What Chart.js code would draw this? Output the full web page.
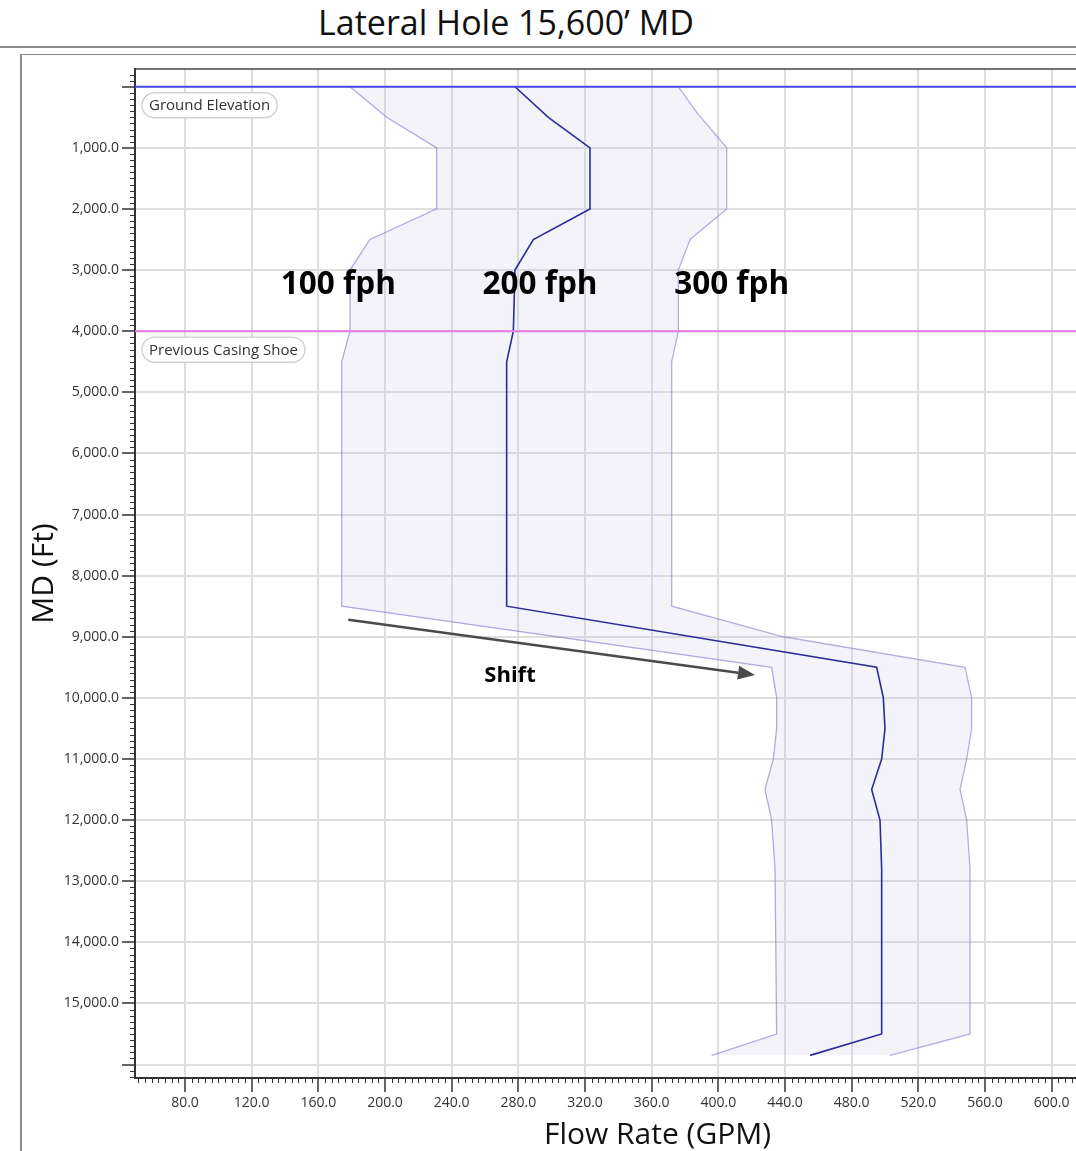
<!DOCTYPE html>
<html>
<head>
<meta charset="utf-8">
<title>Lateral Hole 15,600’ MD</title>
<script src="https://cdn.jsdelivr.net/npm/chart.js@4.4.1/dist/chart.umd.min.js"></script>
<style>
  html, body { margin: 0; padding: 0; background: #fff; overflow: hidden; }
  #page { position: relative; width: 1076px; height: 1151px; overflow: hidden; }
  #title { position: absolute; left: 0; top: 0; width: 1012px; text-align: center;
           font: 34px 'Open Sans', sans-serif; line-height: 44px; color: #111; }
  #rule { position: absolute; left: 0; top: 46px; width: 1076px; height: 2px; background: #8c8c8c; }
  #frame { position: absolute; left: 20px; top: 54px; width: 1200px; height: 1100px;
           border-left: 2px solid #8c8c8c; border-top: 1px solid #8c8c8c; }
  #chart { position: absolute; left: 0; top: 0; }
</style>
</head>
<body>
<div id="page">
  <div id="title">Lateral Hole 15,600’ MD</div>
  <div id="rule"></div>
  <div id="frame"></div>
  <canvas id="chart" width="1180" height="1151"></canvas>
</div>
<script>
const md100 = [0, 500, 1000, 2000, 2500, 3000, 4000, 4500, 8500, 9500, 10000, 10500, 11000, 11500, 12000, 12800, 15500, 15850];
const gpm100 = [179, 201, 231, 231, 191, 179, 179, 174, 174, 432, 435, 435, 433, 428, 432, 434, 435, 396];
const md200 = [0, 500, 1000, 2000, 2500, 3000, 4000, 4500, 8500, 9500, 10000, 10500, 11000, 11500, 12000, 12800, 15500, 15850];
const gpm200 = [278, 298, 323, 323, 289, 278, 277, 273, 273, 495, 499, 500, 498, 492, 497, 498, 498, 455];
const md300 = [0, 420, 1000, 2000, 2500, 3000, 4000, 4500, 8500, 9000, 9500, 10000, 10500, 11000, 11500, 12000, 12800, 15500, 15850];
const gpm300 = [376, 387, 405, 405, 383, 376, 376, 372, 372, 439, 548, 552, 552, 549, 545, 549, 551, 551, 503];

// reference depths
const groundMD = 0;
const casingMD = 4000;
const refNames = ['Ground Elevation', 'Previous Casing Shoe'];

// axes
const xMin = 50, xMax = 677;
const yMin = -290, yMax = 16220;
const xTicks = [80, 120, 160, 200, 240, 280, 320, 360, 400, 440, 480, 520, 560, 600, 640];
const xTickLabels = ['80.0', '120.0', '160.0', '200.0', '240.0', '280.0', '320.0', '360.0', '400.0', '440.0', '480.0', '520.0', '560.0', '600.0', '640.0'];
const yTicks = [0, 1000, 2000, 3000, 4000, 5000, 6000, 7000, 8000, 9000, 10000, 11000, 12000, 13000, 14000, 15000, 16000];
const yTickLabels = ['', '1,000.0', '2,000.0', '3,000.0', '4,000.0', '5,000.0', '6,000.0', '7,000.0', '8,000.0', '9,000.0',
  '10,000.0', '11,000.0', '12,000.0', '13,000.0', '14,000.0', '15,000.0', ''];

// annotations
const rateLabels = ['100 fph', '200 fph', '300 fph'];
const rateLabelGPM = [172, 293, 408];
const rateLabelMD = 3250;
const shiftFrom = [178, 8720];
const shiftTo = [422, 9625];
const shiftLabel = ['Shift', 275, 9640];

const pts = (xs, ys) => xs.map((x, i) => ({ x: x, y: ys[i] }));

function pill(ctx, text, x, y) {
  ctx.font = '15px "Open Sans"';
  const w = ctx.measureText(text).width + 14;
  const h = 25;
  ctx.beginPath();
  ctx.roundRect(x, y, w, h, h / 2);
  ctx.fillStyle = '#fff';
  ctx.fill();
  ctx.strokeStyle = '#d2d2d2';
  ctx.lineWidth = 1.5;
  ctx.stroke();
  ctx.fillStyle = '#333';
  ctx.textAlign = 'left';
  ctx.textBaseline = 'middle';
  ctx.fillText(text, x + 7, y + h / 2 + 1);
}

const decor = {
  id: 'decor',
  afterDraw(chart) {
    const { ctx, chartArea: a, scales: { x, y } } = chart;
    ctx.save();
    // minor ticks
    ctx.strokeStyle = '#333';
    ctx.lineWidth = 1;
    ctx.beginPath();
    for (let v = 52; v < xMax; v += 4) {
      if (v % 40 === 0) continue;
      const px = Math.round(x.getPixelForValue(v)) + 0.5;
      ctx.moveTo(px, a.bottom);
      ctx.lineTo(px, a.bottom + 5);
    }
    for (let v = -200; v < yMax; v += 100) {
      if (v % 1000 === 0) continue;
      const py = Math.round(y.getPixelForValue(v)) + 0.5;
      ctx.moveTo(a.left - 5, py);
      ctx.lineTo(a.left, py);
    }
    ctx.stroke();
    // top border of plot
    ctx.strokeStyle = '#444';
    ctx.lineWidth = 1.5;
    ctx.beginPath();
    ctx.moveTo(a.left, a.top);
    ctx.lineTo(a.right, a.top);
    ctx.stroke();

    // reference line tags
    pill(ctx, refNames[0], a.left + 7, y.getPixelForValue(groundMD) + 6);
    pill(ctx, refNames[1], a.left + 7, y.getPixelForValue(casingMD) + 6);

    // rate labels
    ctx.fillStyle = '#000';
    ctx.font = 'bold 31.5px "Open Sans"';
    ctx.textAlign = 'center';
    ctx.textBaseline = 'middle';
    rateLabels.forEach((t, i) => ctx.fillText(t, x.getPixelForValue(rateLabelGPM[i]), y.getPixelForValue(rateLabelMD)));

    // shift arrow
    const x0 = x.getPixelForValue(shiftFrom[0]), y0 = y.getPixelForValue(shiftFrom[1]);
    const x1 = x.getPixelForValue(shiftTo[0]), y1 = y.getPixelForValue(shiftTo[1]);
    const ang = Math.atan2(y1 - y0, x1 - x0);
    const hl = 17, hw = 7;
    const bx = x1 - hl * Math.cos(ang), by = y1 - hl * Math.sin(ang);
    ctx.strokeStyle = '#4a4a4a';
    ctx.fillStyle = '#4a4a4a';
    ctx.lineWidth = 2.5;
    ctx.beginPath();
    ctx.moveTo(x0, y0);
    ctx.lineTo(bx, by);
    ctx.stroke();
    ctx.beginPath();
    ctx.moveTo(x1, y1);
    ctx.lineTo(bx + hw * Math.sin(ang), by - hw * Math.cos(ang));
    ctx.lineTo(bx - hw * Math.sin(ang), by + hw * Math.cos(ang));
    ctx.closePath();
    ctx.fill();

    ctx.fillStyle = '#000';
    ctx.font = 'bold 22px "Open Sans"';
    ctx.fillText(shiftLabel[0], x.getPixelForValue(shiftLabel[1]), y.getPixelForValue(shiftLabel[2]));
    ctx.restore();
  }
};

const lightLine = 'rgba(120,120,205,0.6)';

new Chart(document.getElementById('chart'), {
  type: 'line',
  data: {
    datasets: [
      { label: refNames[0], data: [{ x: xMin, y: groundMD }, { x: xMax, y: groundMD }],
        borderColor: '#4a4af0', borderWidth: 2 },
      { label: refNames[1], data: [{ x: xMin, y: casingMD }, { x: xMax, y: casingMD }],
        borderColor: '#e47ae8', borderWidth: 2 },
      { label: '200 fph', data: pts(gpm200, md200), borderColor: '#2c2c98', borderWidth: 1.6 },
      { label: '100 fph', data: pts(gpm100, md100), borderColor: lightLine, borderWidth: 1.3,
        fill: 4, backgroundColor: 'rgba(200,196,228,0.2)' },
      { label: '300 fph', data: pts(gpm300, md300), borderColor: lightLine, borderWidth: 1.3 }
    ]
  },
  options: {
    responsive: false,
    animation: false,
    indexAxis: 'y',
    devicePixelRatio: 1,
    elements: { point: { radius: 0 }, line: { tension: 0 } },
    layout: { padding: { top: 69, left: 0, right: 0, bottom: 0 } },
    plugins: { legend: { display: false }, tooltip: { enabled: false } },
    scales: {
      x: {
        type: 'linear', min: xMin, max: xMax,
        afterBuildTicks: s => { s.ticks = xTicks.map(v => ({ value: v })); },
        afterFit: s => { s.height = 73; },
        ticks: { autoSkip: false, maxRotation: 0, padding: 3, color: '#333',
          font: { family: 'Open Sans', size: 14 }, callback: (v, i) => xTickLabels[i] },
        grid: { color: '#dedede', lineWidth: 2, tickColor: '#333', tickWidth: 1.5, tickLength: 14 },
        border: { color: '#333', width: 2 },
        title: { display: true, text: 'Flow Rate (GPM)', color: '#111', padding: 0,
          font: { family: 'Open Sans', size: 30, lineHeight: 1.05 } }
      },
      y: {
        type: 'linear', reverse: true, min: yMin, max: yMax,
        afterBuildTicks: s => { s.ticks = yTicks.map(v => ({ value: v })); },
        afterFit: s => { s.width = 135; },
        ticks: { autoSkip: false, padding: 3, color: '#333',
          font: { family: 'Open Sans', size: 14 }, callback: (v, i) => yTickLabels[i] },
        grid: { color: '#dedede', lineWidth: 2, tickColor: '#333', tickWidth: 1.5, tickLength: 13 },
        border: { color: '#333', width: 2 },
        title: { display: true, text: 'MD (Ft)', color: '#111', padding: { top: 29, bottom: 0 },
          font: { family: 'Open Sans', size: 30, lineHeight: 1.05 } }
      }
    }
  },
  plugins: [decor]
});
</script>
</body>
</html>
